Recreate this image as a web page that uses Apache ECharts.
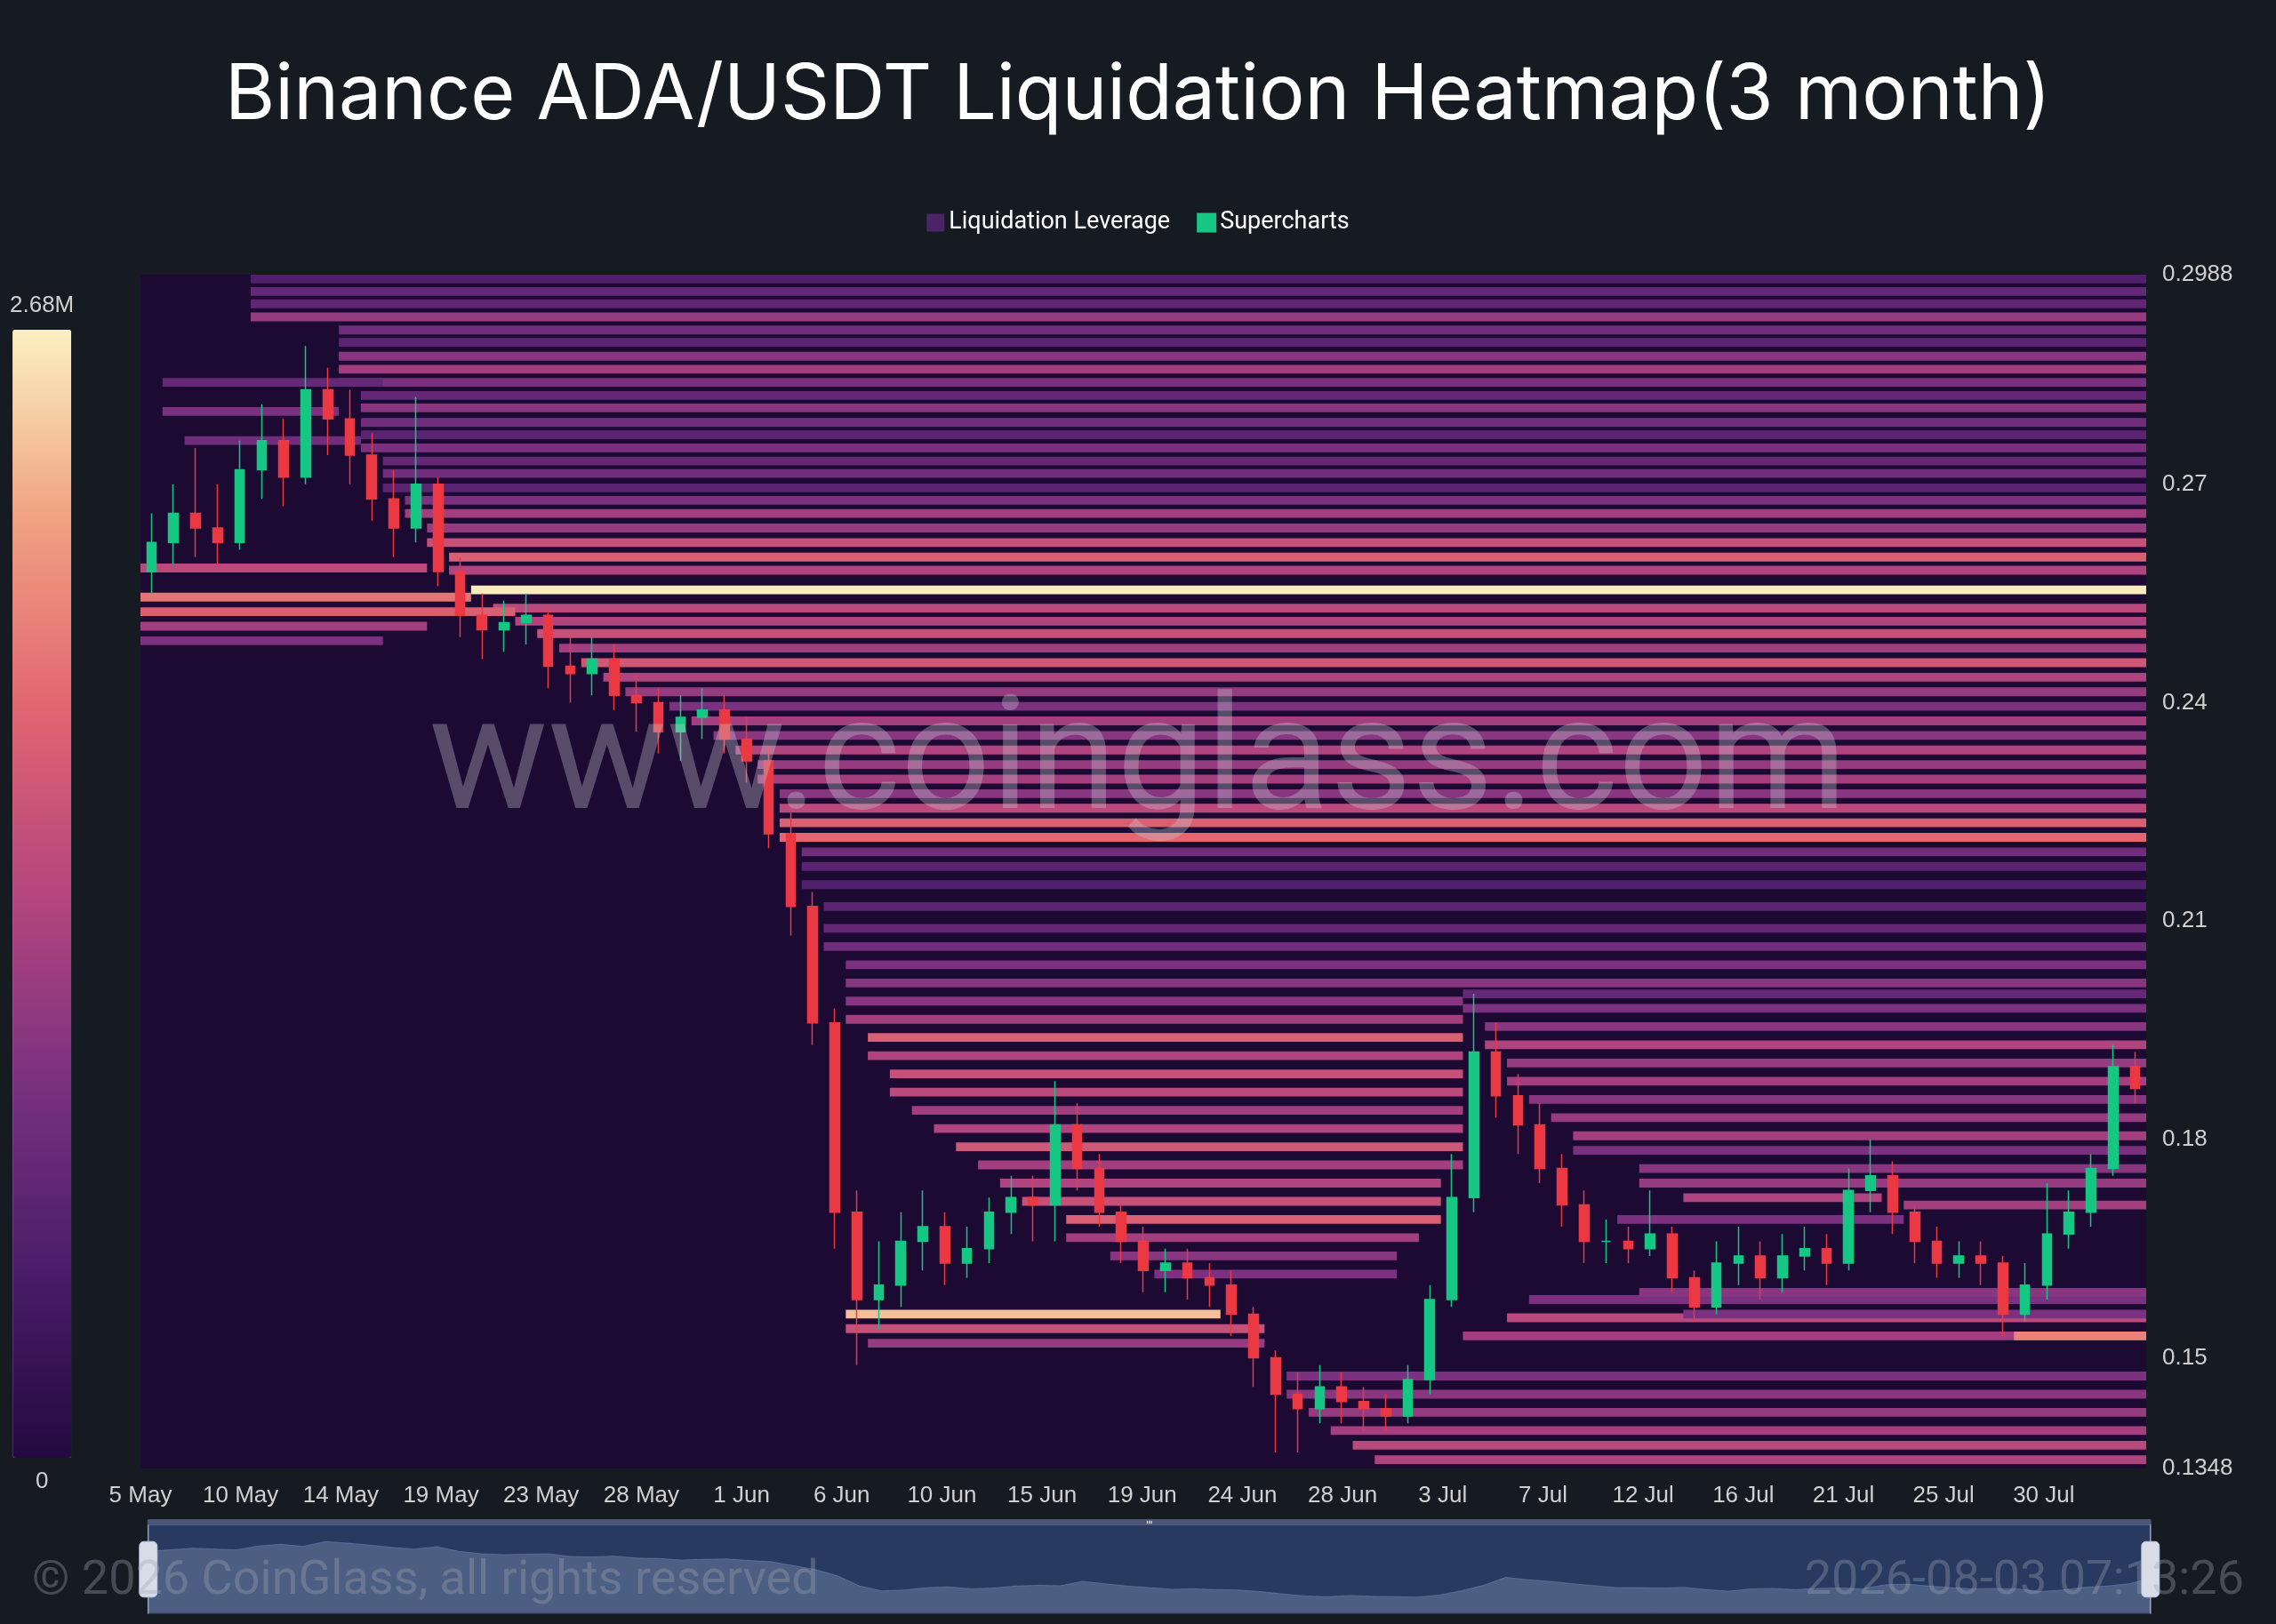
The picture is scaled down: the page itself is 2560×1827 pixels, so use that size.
<!DOCTYPE html>
<html><head><meta charset="utf-8">
<script src="https://cdn.jsdelivr.net/npm/echarts@6/dist/echarts.min.js"></script>
<style>html,body{margin:0;background:#161b22;}#c{width:2560px;height:1827px;}</style>
</head><body><div id="c"></div>
<script>
const startDate = new Date(Date.UTC(2025,4,5));
const months = ['Jan','Feb','Mar','Apr','May','Jun','Jul','Aug','Sep','Oct','Nov','Dec'];
const dates = [];
for (let i=0;i<91;i++){const d=new Date(startDate.getTime()+i*86400000);dates.push(d.getUTCDate()+' '+months[d.getUTCMonth()]);}
const xTickLabels = ['5 May','10 May','14 May','19 May','23 May','28 May','1 Jun','6 Jun','10 Jun','15 Jun','19 Jun','24 Jun','28 Jun','3 Jul','7 Jul','12 Jul','16 Jul','21 Jul','25 Jul','30 Jul'];
const xTickStep = 4.545;
const yLabels = [0.1348,0.15,0.18,0.21,0.24,0.27,0.2988];
// [open, close, low, high]
const candles = [
[0.258,0.262,0.255,0.266],[0.262,0.266,0.259,0.270],[0.266,0.264,0.260,0.275],[0.264,0.262,0.259,0.270],
[0.262,0.272,0.261,0.276],[0.272,0.276,0.268,0.281],[0.276,0.271,0.267,0.279],[0.271,0.283,0.270,0.289],
[0.283,0.279,0.274,0.286],[0.279,0.274,0.270,0.283],[0.274,0.268,0.265,0.277],[0.268,0.264,0.260,0.272],
[0.264,0.270,0.262,0.282],[0.270,0.258,0.256,0.271],[0.258,0.252,0.249,0.260],[0.252,0.250,0.246,0.255],
[0.250,0.251,0.247,0.254],[0.251,0.252,0.248,0.255],[0.252,0.245,0.242,0.253],[0.245,0.244,0.240,0.249],
[0.244,0.246,0.241,0.249],[0.246,0.241,0.239,0.248],[0.241,0.240,0.236,0.244],[0.240,0.236,0.233,0.242],
[0.236,0.238,0.232,0.241],[0.238,0.239,0.235,0.242],[0.239,0.235,0.233,0.241],
[0.235,0.232,0.229,0.238],[0.232,0.222,0.220,0.234],[0.222,0.212,0.208,0.225],[0.212,0.196,0.193,0.214],
[0.196,0.170,0.165,0.198],[0.170,0.158,0.149,0.173],[0.158,0.160,0.154,0.166],[0.160,0.166,0.157,0.170],
[0.166,0.168,0.162,0.173],[0.168,0.163,0.160,0.170],[0.163,0.165,0.161,0.168],[0.165,0.170,0.163,0.172],
[0.170,0.172,0.167,0.175],[0.172,0.171,0.166,0.175],[0.171,0.182,0.166,0.188],[0.182,0.176,0.173,0.185],
[0.176,0.170,0.168,0.178],[0.170,0.166,0.163,0.171],[0.166,0.162,0.159,0.168],[0.162,0.163,0.159,0.165],
[0.163,0.161,0.158,0.165],[0.161,0.160,0.157,0.163],[0.160,0.156,0.153,0.162],[0.156,0.150,0.146,0.157],
[0.150,0.145,0.137,0.151],[0.145,0.143,0.137,0.148],[0.143,0.146,0.141,0.149],[0.146,0.144,0.141,0.148],
[0.144,0.143,0.140,0.146],[0.143,0.142,0.140,0.145],
[0.142,0.147,0.141,0.149],[0.147,0.158,0.145,0.160],[0.158,0.172,0.157,0.178],[0.172,0.192,0.170,0.200],
[0.192,0.186,0.183,0.196],[0.186,0.182,0.178,0.189],[0.182,0.176,0.174,0.185],[0.176,0.171,0.168,0.178],
[0.171,0.166,0.163,0.173],[0.166,0.166,0.163,0.169],[0.166,0.165,0.163,0.168],[0.165,0.167,0.164,0.173],
[0.167,0.161,0.159,0.168],[0.161,0.157,0.155,0.162],[0.157,0.163,0.156,0.166],[0.163,0.164,0.160,0.168],
[0.164,0.161,0.158,0.166],[0.161,0.164,0.159,0.167],[0.164,0.165,0.162,0.168],[0.165,0.163,0.160,0.167],
[0.163,0.173,0.162,0.176],[0.173,0.175,0.170,0.180],[0.175,0.170,0.167,0.177],[0.170,0.166,0.163,0.171],
[0.166,0.163,0.161,0.168],[0.163,0.164,0.161,0.166],[0.164,0.163,0.160,0.166],[0.163,0.156,0.153,0.164],
[0.156,0.160,0.155,0.163],[0.160,0.167,0.158,0.174],[0.167,0.170,0.165,0.173],
[0.170,0.176,0.168,0.178],[0.176,0.190,0.175,0.193],[0.190,0.187,0.185,0.192]
];
// [startIdx, endIdx, price, liquidation value (k)]
const bands = [
[5,90,0.2982,500],[5,90,0.2965,700],[5,90,0.2948,650],[5,90,0.2930,1100],[9,90,0.2912,800],[9,90,0.2895,600],
[9,90,0.2876,1000],[9,90,0.2858,1200],[9,90,0.2840,900],[10,90,0.2822,700],[10,90,0.2805,1000],[10,90,0.2785,800],
[10,90,0.2768,600],[10,90,0.2750,900],[11,90,0.2732,700],[11,90,0.2715,800],[11,90,0.2695,600],[12,90,0.2678,900],
[12,90,0.2660,1200],[13,90,0.2640,1100],[13,90,0.2620,1500],[14,90,0.2600,1700],[14,90,0.2582,1300],[15,90,0.2555,2650],
[16,90,0.2530,1400],[17,90,0.2512,1300],[18,90,0.2495,1500],[19,90,0.2475,1200],[20,90,0.2455,1600],[21,90,0.2435,1300],
[22,90,0.2415,1100],[24,90,0.2395,900],[25,90,0.2375,1200],[26,90,0.2355,1000],[27,90,0.2335,1300],[28,90,0.2315,1100],
[28,90,0.2295,1200],[29,90,0.2275,1000],[29,90,0.2255,1400],[29,90,0.2235,1700],[29,90,0.2215,1800],[30,90,0.2195,800],
[30,90,0.2175,600],[30,90,0.2150,500],[31,90,0.2120,600],[31,90,0.2090,700],[31,90,0.2065,800],[32,90,0.2040,900],
[32,90,0.2015,1000],
[32,59,0.1990,1000],[32,59,0.1965,1200],[33,59,0.1940,1700],[33,59,0.1915,1300],[34,59,0.1890,1500],[34,59,0.1865,1400],
[35,59,0.1840,1200],[36,59,0.1815,1300],[37,59,0.1790,1600],[38,59,0.1765,1200],[39,58,0.1740,1300],[40,58,0.1715,1500],
[42,58,0.1690,1700],[42,57,0.1665,1200],[44,56,0.1640,1000],[46,56,0.1615,900],
[32,48,0.1560,2400],[32,50,0.1540,1500],[33,50,0.1520,1100],
[52,90,0.1475,900],[52,90,0.1450,1000],[53,90,0.1425,1100],[54,90,0.1400,1200],[55,90,0.1380,1400],[56,90,0.1360,1300],
[60,90,0.1530,1200],[62,90,0.1555,1400],[63,90,0.1580,900],
[60,90,0.2000,700],[60,90,0.1980,900],[61,90,0.1955,1000],[61,90,0.1930,1300],[62,90,0.1905,1100],[62,90,0.1880,1200],
[63,90,0.1855,1000],[64,90,0.1830,1100],[65,90,0.1805,1200],[65,90,0.1785,900],
[68,90,0.1760,1000],[68,90,0.1740,1100],[70,78,0.1720,1300],[80,90,0.1710,1200],[67,79,0.1690,900],
[68,90,0.1590,1000],[70,90,0.1560,900],[85,90,0.1530,2000],
[0,14,0.2545,1900],[0,16,0.2525,1700],[0,12,0.2505,1200],[0,10,0.2485,900],[0,12,0.2585,1400],
[1,10,0.2840,700],[1,8,0.2800,900],[2,9,0.2760,800]
];
const chart = echarts.init(document.getElementById('c'));
chart.setOption({
  backgroundColor:'#161b22',
  animation:false,
  title:{text:'Binance ADA/USDT Liquidation Heatmap(3 month)',left:'center',top:60,
    textStyle:{color:'#ffffff',fontSize:86,fontWeight:'normal',fontFamily:'Inter'}},
  legend:{top:232,left:'center',itemWidth:20,itemHeight:20,itemGap:30,
    textStyle:{color:'#ffffff',fontSize:27,fontFamily:'Roboto'},
    data:[{name:'Liquidation Leverage',icon:'rect',itemStyle:{color:'#4a2466'}},{name:'Supercharts',icon:'rect',itemStyle:{color:'#16c784'}}]},
  grid:{left:158,right:146,top:309,bottom:175,show:true,backgroundColor:'#1c0a33',borderWidth:0},
  xAxis:[
    {type:'category',data:dates,boundaryGap:true,
     axisLine:{show:false},axisTick:{show:false},splitLine:{show:false},axisLabel:{show:false}},
    {type:'value',position:'bottom',min:0,max:91,interval:xTickStep,
     axisLine:{show:false},axisTick:{show:false},splitLine:{show:false},
     axisLabel:{color:'#d0d0d0',fontSize:26,margin:18,showMaxLabel:false,
       formatter:(v)=>xTickLabels[Math.round(v/xTickStep)]||''}}
  ],
  yAxis:{type:'value',position:'right',min:0.1348,max:0.2988,scale:true,
    splitLine:{show:false},axisLine:{show:false},axisTick:{show:false},
    axisLabel:{color:'#d0d0d0',fontSize:26,margin:18,customValues:yLabels}},
  visualMap:{type:'continuous',min:0,max:2680,seriesIndex:0,dimension:3,calculable:false,
    left:-4,top:316,itemWidth:66,itemHeight:1269,text:['2.68M','0'],textGap:14,
    textStyle:{color:'#d0d0d0',fontSize:26},
    inRange:{color:['#24093f','#4a1d6a','#7a3180','#b5467e','#e26570','#f0a282','#fbf0c0']}},
  dataZoom:[{type:'slider',xAxisIndex:0,start:0,end:100,left:163,right:143,bottom:18,height:100,
    backgroundColor:'#1e2d4a',fillerColor:'rgba(70,100,160,0.25)',borderColor:'#2a3a5a',
    dataBackground:{lineStyle:{color:'#7c8fc0'},areaStyle:{color:'#3a4c78'}},
    handleStyle:{color:'#d8dce6'},showDetail:false,filterMode:'none'}],
  graphic:[
    {type:'text',left:'center',top:775,z:100,style:{text:'www.coinglass.com',fontSize:178,fill:'rgba(200,200,210,0.35)',fontFamily:'Roboto'}},
    {type:'text',left:36,top:1752,z:100,style:{text:'© 2026 CoinGlass, all rights reserved',fontSize:54,fill:'rgba(160,165,180,0.35)',fontFamily:'Roboto'}},
    {type:'text',right:36,top:1752,z:100,style:{text:'2026-08-03 07:13:26',fontSize:54,fill:'rgba(160,165,180,0.35)',fontFamily:'Roboto'}}
  ],
  series:[
    {name:'Liquidation Leverage',type:'custom',data:bands,encode:{x:0,y:2},clip:true,
     renderItem:function(params,api){
       const cs=params.coordSys;
       const bw=api.size([1,0])[0];
       const p0=api.coord([api.value(0),api.value(2)]);
       const p1=api.coord([api.value(1),api.value(2)]);
       const h=Math.abs(api.size([0,0.0012])[1]);
       const x0=p0[0]-bw/2;
       const x1=api.value(1)>=90?cs.x+cs.width:p1[0]+bw/2;
       return {type:'rect',shape:{x:x0,y:p0[1]-h/2,width:x1-x0,height:h},style:{fill:api.visual('color')}};
     }},
    {name:'Supercharts',type:'candlestick',data:candles,barWidth:'45%',z:5,
     itemStyle:{color:'#16c784',color0:'#ea3943',borderColor:'#16c784',borderColor0:'#ea3943',borderWidth:1.5}},
    {name:'shadow',type:'line',data:candles.map(c=>c[1]),showSymbol:false,lineStyle:{opacity:0},silent:true,tooltip:{show:false}}
  ]
});
</script></body></html>
